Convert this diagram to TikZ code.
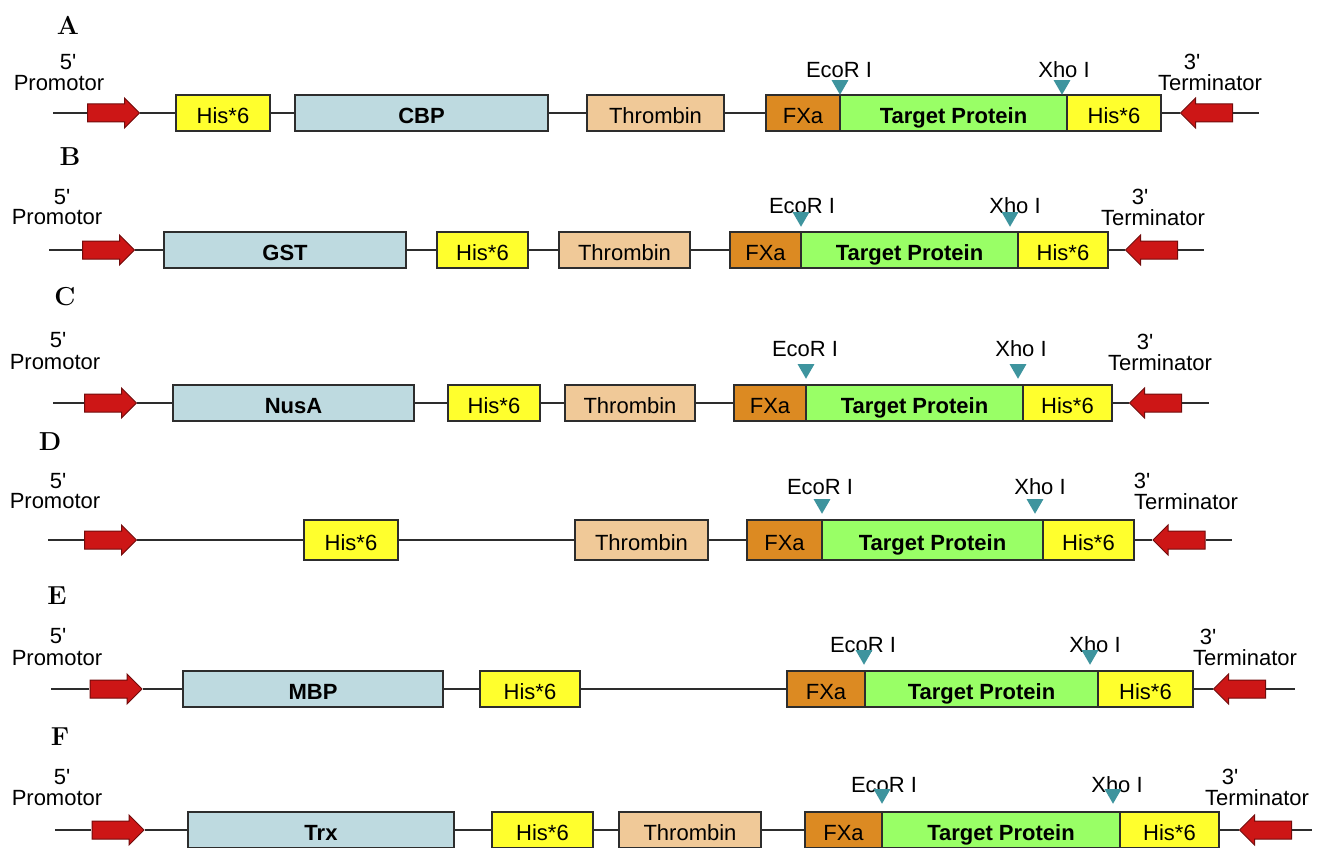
\documentclass[tikz,border=0pt]{standalone}
\usepackage{fontspec}
\setsansfont{Liberation Sans}
\usetikzlibrary{positioning, shapes.arrows, shapes.geometric}
\definecolor{HisYellow}{RGB}{255, 255, 45}
\definecolor{TagBlue}{RGB}{190, 218, 224}
\definecolor{ThrTan}{RGB}{240, 201, 152}
\definecolor{FXaOrange}{RGB}{220, 138, 34}
\definecolor{TgtGreen}{RGB}{153, 255, 102}
\definecolor{SiteTeal}{RGB}{62, 148, 158}
\definecolor{ArrRed}{RGB}{205, 22, 22}
\definecolor{LineGray}{RGB}{45, 45, 45}
\tikzset{
  box/.style={rectangle, draw=LineGray, line width=1.8pt, minimum height=36pt,
    inner sep=0pt, outer sep=0pt, text height=24.5pt, text depth=4pt,
    font=\fontsize{22}{24}\selectfont\sffamily},
  his/.style={box, fill=HisYellow},
  tag/.style={box, fill=TagBlue, font=\fontsize{22}{24}\selectfont\sffamily\bfseries},
  thr/.style={box, fill=ThrTan},
  fxa/.style={box, fill=FXaOrange},
  tgt/.style={box, fill=TgtGreen, font=\fontsize{22}{24}\selectfont\sffamily\bfseries},
  prom/.style={single arrow, fill=ArrRed, draw=ArrRed!55!black, line width=1pt,
    minimum height=52pt, minimum width=29pt, single arrow head extend=6pt,
    single arrow tip angle=90, inner xsep=0pt, inner ysep=8.5pt},
  term/.style={prom, shape border rotate=180},
  site/.style={regular polygon, regular polygon sides=3, shape border rotate=180,
    fill=SiteTeal, minimum size=19.5pt, inner sep=0pt},
  lbl/.style={font=\fontsize{22}{22}\selectfont\sffamily, inner sep=0pt},
  panel/.style={font=\fontsize{26}{26}\selectfont\bfseries, inner sep=0pt},
  dna/.style={line width=2pt, LineGray},
}
\begin{document}
\begin{tikzpicture}[x=1pt, y=-1pt]
    \useasboundingbox (0,0) rectangle (1327,848);
    \node[panel] (pA) at (68,25) {A};
    \node[lbl] (fiveA) at (68,62) {5\textquotesingle};
    \node[lbl] (promA) at (59,83) {Promotor};
    \node[prom] (arrA) at (109,113) {};
    \node[his, minimum width=94pt] (hisA) at (223,113) {His*6};
    \node[tag, minimum width=253pt] (cbp) at (421.5,113) {CBP};
    \node[thr, minimum width=137pt] (thrA) at (655.5,113) {Thrombin};
    \node[fxa, minimum width=74pt] (fxaA) at (803,113) {FXa};
    \node[tgt, minimum width=227pt, right=0pt of fxaA] (tgtA) {Target Protein};
    \node[his, minimum width=94pt, right=0pt of tgtA] (hisA2) {His*6};
    \node[lbl] (ecoLA) at (839,70) {EcoR I};
    \node[lbl] (xhoLA) at (1064,70) {Xho I};
    \node[site] (ecoA) at (840,85) {};
    \node[site] (xhoA) at (1062,85) {};
    \node[lbl] (threeA) at (1192,62) {3\textquotesingle};
    \node[lbl] (termLA) at (1210,83) {Terminator};
    \node[term] (arrTA) at (1211,113) {};
    \coordinate (sA) at (53,113);
    \coordinate (eA) at (1259,113);
    \draw[dna] (sA) -- (arrA) -- (hisA) -- (cbp) -- (thrA) -- (fxaA);
    \draw[dna] (hisA2) -- (arrTA) -- (eA);

    \node[panel] (pB) at (70,157) {B};
    \node[lbl] (fiveB) at (62,197) {5\textquotesingle};
    \node[lbl] (promB) at (57,217) {Promotor};
    \node[prom] (arrB) at (104,250) {};
    \node[tag, minimum width=242pt] (gst) at (285,250) {GST};
    \node[his, minimum width=91pt] (hisB) at (482.5,250) {His*6};
    \node[thr, minimum width=131pt] (thrB) at (624.5,250) {Thrombin};
    \node[fxa, minimum width=71pt] (fxaB) at (765.5,250) {FXa};
    \node[tgt, minimum width=217pt, right=0pt of fxaB] (tgtB) {Target Protein};
    \node[his, minimum width=90pt, right=0pt of tgtB] (hisB2) {His*6};
    \node[lbl] (ecoLB) at (802,206) {EcoR I};
    \node[lbl] (xhoLB) at (1015,206) {Xho I};
    \node[site] (ecoB) at (801,217) {};
    \node[site] (xhoB) at (1010,217) {};
    \node[lbl] (threeB) at (1140,197) {3\textquotesingle};
    \node[lbl] (termLB) at (1153,218) {Terminator};
    \node[term] (arrTB) at (1156,250) {};
    \coordinate (sB) at (49,250);
    \coordinate (eB) at (1204,250);
    \draw[dna] (sB) -- (arrB) -- (gst) -- (hisB) -- (thrB) -- (fxaB);
    \draw[dna] (hisB2) -- (arrTB) -- (eB);

    \node[panel] (pC) at (65,297) {C};
    \node[lbl] (fiveC) at (58,340) {5\textquotesingle};
    \node[lbl] (promC) at (55,362) {Promotor};
    \node[prom] (arrC) at (106,403) {};
    \node[tag, minimum width=241pt] (nusa) at (293.5,403) {NusA};
    \node[his, minimum width=92pt] (hisC) at (494,403) {His*6};
    \node[thr, minimum width=130pt] (thrC) at (630,403) {Thrombin};
    \node[fxa, minimum width=72pt] (fxaC) at (770,403) {FXa};
    \node[tgt, minimum width=217pt, right=0pt of fxaC] (tgtC) {Target Protein};
    \node[his, minimum width=89pt, right=0pt of tgtC] (hisC2) {His*6};
    \node[lbl] (ecoLC) at (805,349) {EcoR I};
    \node[lbl] (xhoLC) at (1021,349) {Xho I};
    \node[site] (ecoC) at (806,369) {};
    \node[site] (xhoC) at (1018,369) {};
    \node[lbl] (threeC) at (1145,342) {3\textquotesingle};
    \node[lbl] (termLC) at (1160,363) {Terminator};
    \node[term] (arrTC) at (1160,403) {};
    \coordinate (sC) at (53,403);
    \coordinate (eC) at (1209,403);
    \draw[dna] (sC) -- (arrC) -- (nusa) -- (hisC) -- (thrC) -- (fxaC);
    \draw[dna] (hisC2) -- (arrTC) -- (eC);

    \node[panel] (pD) at (50,442) {D};
    \node[lbl] (fiveD) at (58,481) {5\textquotesingle};
    \node[lbl] (promD) at (55,501) {Promotor};
    \node[prom] (arrD) at (106,540) {};
    \node[his, minimum width=94pt, minimum height=40pt] (hisD) at (351,540) {His*6};
    \node[thr, minimum width=133pt, minimum height=40pt] (thrD) at (641.5,540) {Thrombin};
    \node[fxa, minimum width=75pt, minimum height=40pt] (fxaD) at (784.5,540) {FXa};
    \node[tgt, minimum width=221pt, minimum height=40pt, right=0pt of fxaD] (tgtD) {Target Protein};
    \node[his, minimum width=91pt, minimum height=40pt, right=0pt of tgtD] (hisD2) {His*6};
    \node[lbl] (ecoLD) at (820,487) {EcoR I};
    \node[lbl] (xhoLD) at (1040,487) {Xho I};
    \node[site] (ecoD) at (822,504) {};
    \node[site] (xhoD) at (1035,504) {};
    \node[lbl] (threeD) at (1142,481) {3\textquotesingle};
    \node[lbl] (termLD) at (1186,502) {Terminator};
    \node[term] (arrTD) at (1183.5,540) {};
    \coordinate (sD) at (48,540);
    \coordinate (eD) at (1232,540);
    \draw[dna] (sD) -- (arrD) -- (hisD) -- (thrD) -- (fxaD);
    \draw[dna] (hisD2) -- (arrTD) -- (eD);

    \node[panel] (pE) at (57,596) {E};
    \node[lbl] (fiveE) at (58,636) {5\textquotesingle};
    \node[lbl] (promE) at (57,658) {Promotor};
    \node[prom] (arrE) at (111.5,689) {};
    \node[tag, minimum width=260pt] (mbp) at (313,689) {MBP};
    \node[his, minimum width=100pt] (hisE) at (530,689) {His*6};
    \node[fxa, minimum width=78pt] (fxaE) at (826,689) {FXa};
    \node[tgt, minimum width=233pt, right=0pt of fxaE] (tgtE) {Target Protein};
    \node[his, minimum width=95pt, right=0pt of tgtE] (hisE2) {His*6};
    \node[lbl] (ecoLE) at (863,645) {EcoR I};
    \node[lbl] (xhoLE) at (1095,645) {Xho I};
    \node[site] (ecoE) at (864,655) {};
    \node[site] (xhoE) at (1090,655) {};
    \node[lbl] (threeE) at (1208,637) {3\textquotesingle};
    \node[lbl] (termLE) at (1245,658) {Terminator};
    \node[term] (arrTE) at (1244,689) {};
    \coordinate (sE) at (51,689);
    \coordinate (eE) at (1295,689);
    \draw[dna] (sE) -- (arrE) -- (mbp) -- (hisE) -- (fxaE);
    \draw[dna] (hisE2) -- (arrTE) -- (eE);

    \node[panel] (pF) at (60,737) {F};
    \node[lbl] (fiveF) at (62,777) {5\textquotesingle};
    \node[lbl] (promF) at (57,798) {Promotor};
    \node[prom] (arrF) at (113.5,830) {};
    \node[tag, minimum width=266pt] (trx) at (321,830) {Trx};
    \node[his, minimum width=101pt] (hisF) at (542.5,830) {His*6};
    \node[thr, minimum width=142pt] (thrF) at (690,830) {Thrombin};
    \node[fxa, minimum width=77pt] (fxaF) at (843.5,830) {FXa};
    \node[tgt, minimum width=238pt, right=0pt of fxaF] (tgtF) {Target Protein};
    \node[his, minimum width=99pt, right=0pt of tgtF] (hisF2) {His*6};
    \node[lbl] (ecoLF) at (884,785) {EcoR I};
    \node[lbl] (xhoLF) at (1117,785) {Xho I};
    \node[site] (ecoF) at (882,794) {};
    \node[site] (xhoF) at (1113,794) {};
    \node[lbl] (threeF) at (1230,777) {3\textquotesingle};
    \node[lbl] (termLF) at (1257,798) {Terminator};
    \node[term] (arrTF) at (1270,830) {};
    \coordinate (sF) at (55,830);
    \coordinate (eF) at (1312,830);
    \draw[dna] (sF) -- (arrF) -- (trx) -- (hisF) -- (thrF) -- (fxaF);
    \draw[dna] (hisF2) -- (arrTF) -- (eF);
\end{tikzpicture}
\end{document}
